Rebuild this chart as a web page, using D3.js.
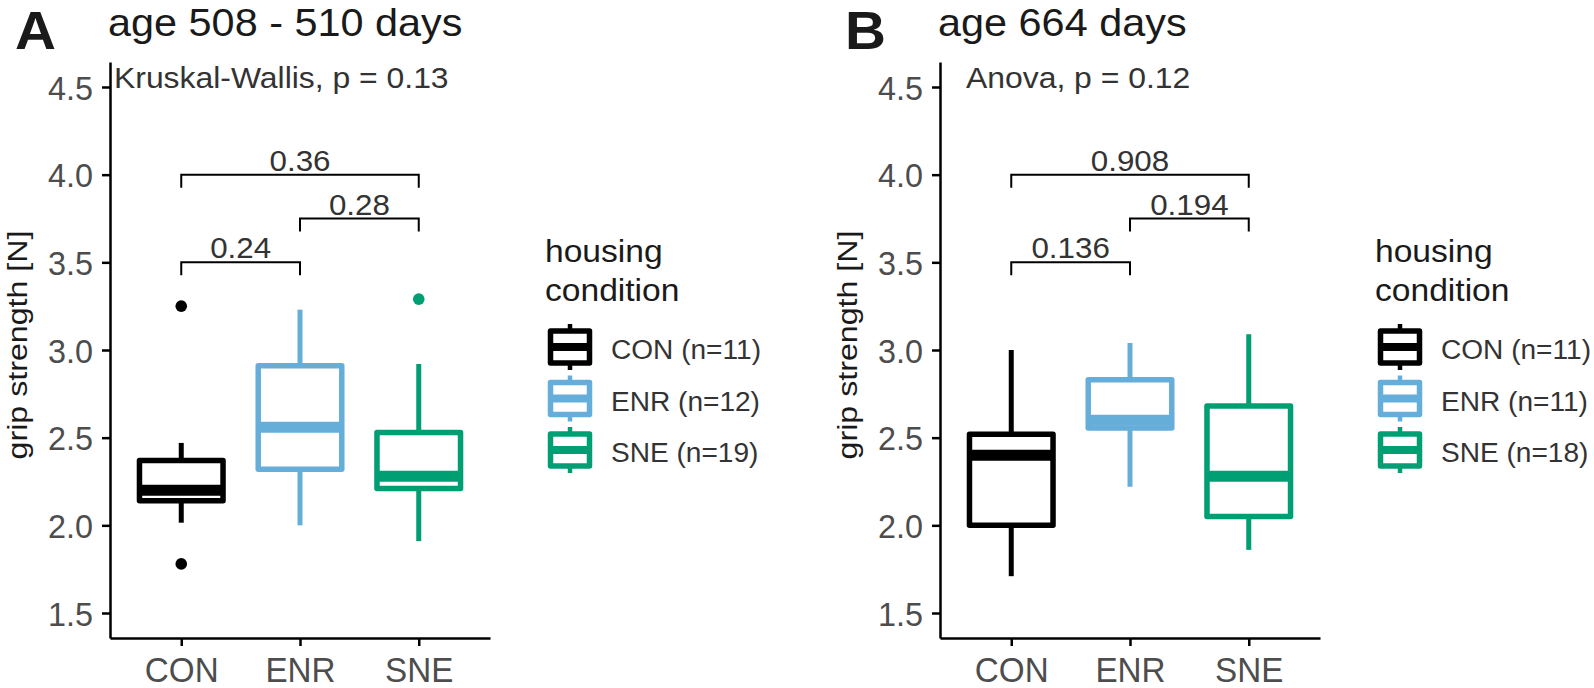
<!DOCTYPE html>
<html><head><meta charset="utf-8">
<script src="https://cdn.jsdelivr.net/npm/d3@7"></script>
<style>body{margin:0;background:#fff}svg{display:block}text{font-family:"Liberation Sans",Arial,sans-serif}</style>
</head><body>
<svg id="c" width="1594" height="688"></svg>
<script>
// ---------- data ----------
const categories = ["CON", "ENR", "SNE"];
const panelLetters = ["A", "B"];
const panelTitles = ["age 508 - 510 days", "age 664 days"];
const testLabels = ["Kruskal-Wallis, p = 0.13", "Anova, p = 0.12"];
const yTicks = [1.5, 2.0, 2.5, 3.0, 3.5, 4.0, 4.5];
// panel A box statistics (per category)
const aLow = [2.015, 2.00, 1.91];
const aQ1 = [2.14, 2.32, 2.21];
const aMedian = [2.20, 2.56, 2.28];
const aQ3 = [2.37, 2.91, 2.53];
const aHigh = [2.47, 3.23, 2.92];
const aOutliers = [[3.25, 1.78], [], [3.29]];
const aN = [11, 12, 19];
// panel B box statistics
const bLow = [1.71, 2.22, 1.86];
const bQ1 = [2.00, 2.555, 2.05];
const bMedian = [2.40, 2.60, 2.28];
const bQ3 = [2.52, 2.83, 2.68];
const bHigh = [3.00, 3.04, 3.09];
const bOutliers = [[], [], []];
const bN = [11, 11, 18];
// pairwise comparisons
const pairs = [[0, 1], [1, 2], [0, 2]];
const bracketY = [3.5, 3.75, 4.0];
const aPvals = ["0.24", "0.28", "0.36"];
const bPvals = ["0.136", "0.194", "0.908"];
const legendTitle = ["housing", "condition"];
const yTitle = "grip strength [N]";

// ---------- style ----------
const colors = ["#000000", "#66AEDA", "#009E73"];
const panelOffset = 830;
const svg = d3.select("#c");

function txt(g, x, y, s, size, sx, anchor, fill, weight, rot) {
  return g.append("text")
    .attr("transform", `translate(${x},${y})` + (rot ? ` rotate(${rot})` : "") + ` scale(${sx},1)`)
    .attr("text-anchor", anchor || "start")
    .attr("font-size", size)
    .attr("font-weight", weight || "normal")
    .attr("fill", fill || "#000")
    .text(s);
}

const y = d3.scaleLinear().domain([1.3574, 4.6426]).range([638, 62]);

const panels = [
  {low: aLow, q1: aQ1, med: aMedian, q3: aQ3, high: aHigh, out: aOutliers, n: aN, p: aPvals},
  {low: bLow, q1: bQ1, med: bMedian, q3: bQ3, high: bHigh, out: bOutliers, n: bN, p: bPvals}
];

panels.forEach((P, pi) => {
  const ox = pi * panelOffset;
  const g = svg.append("g").attr("transform", `translate(${ox},0)`);
  const x = d3.scalePoint().domain(categories).range([110, 490]).padding(0.6);
  const step = x.step();

  // panel letter & title
  txt(g, 15, 49, panelLetters[pi], 54, 1.05, "start", "#1a1a1a", "bold");
  txt(g, 108, 36, panelTitles[pi], 38, 1.09, "start", "#1a1a1a");

  // axes
  const ya = g.append("g").attr("transform", "translate(110,0)")
    .call(d3.axisLeft(y).tickValues(yTicks).tickFormat(d3.format(".1f")).tickSize(8).tickSizeOuter(0));
  ya.select(".domain").attr("stroke", "#000").attr("stroke-width", 2.5);
  ya.selectAll(".tick line").attr("stroke", "#000").attr("stroke-width", 2.5);
  ya.selectAll(".tick text").attr("x", 0).attr("dy", null).attr("y", 12)
    .attr("transform", "translate(-17,0) scale(0.98,1)")
    .attr("font-size", 33).attr("fill", "#4D4D4D").attr("font-family", null);

  const xa = g.append("g").attr("transform", "translate(0,638)")
    .call(d3.axisBottom(x).tickSize(8).tickSizeOuter(0));
  xa.select(".domain").attr("stroke", "#000").attr("stroke-width", 2.5);
  xa.selectAll(".tick line").attr("stroke", "#000").attr("stroke-width", 2.5);
  xa.selectAll(".tick text").attr("dy", null).attr("y", 44)
    .attr("transform", "scale(0.95,1)")
    .attr("font-size", 35).attr("fill", "#4D4D4D").attr("font-family", null);
  xa.selectAll(".tick text").attr("x", 0);

  // y title
  txt(g, 27, 345, yTitle, 28, 1.15, "middle", "#1a1a1a", "normal", -90);

  // boxes
  const half = 0.75 * step / 2 - 2.75;
  categories.forEach((c, i) => {
    const cx = x(c), col = colors[i];
    const bg = g.append("g");
    bg.append("line").attr("x1", cx).attr("x2", cx).attr("y1", y(P.high[i])).attr("y2", y(P.q3[i]))
      .attr("stroke", col).attr("stroke-width", 5);
    bg.append("line").attr("x1", cx).attr("x2", cx).attr("y1", y(P.q1[i])).attr("y2", y(P.low[i]))
      .attr("stroke", col).attr("stroke-width", 5);
    bg.append("rect").attr("x", cx - half).attr("width", 2 * half)
      .attr("y", y(P.q3[i])).attr("height", y(P.q1[i]) - y(P.q3[i]))
      .attr("fill", "#fff").attr("stroke", col).attr("stroke-width", 5.5).attr("stroke-linejoin", "round");
    bg.append("line").attr("x1", cx - half).attr("x2", cx + half).attr("y1", y(P.med[i])).attr("y2", y(P.med[i]))
      .attr("stroke", col).attr("stroke-width", 11);
    P.out[i].forEach(v => {
      bg.append("circle").attr("cx", cx).attr("cy", y(v)).attr("r", 5.8).attr("fill", col);
    });
  });

  // test label
  txt(g, pi === 0 ? 114 : 136, 88, testLabels[pi], 29, 1.1, "start", "#333");

  // brackets
  pairs.forEach((pr, k) => {
    const x1 = x(categories[pr[0]]), x2 = x(categories[pr[1]]), yy = y(bracketY[k]);
    g.append("path").attr("d", `M${x1},${yy + 13}V${yy}H${x2}V${yy + 13}`)
      .attr("fill", "none").attr("stroke", "#000").attr("stroke-width", 2);
    txt(g, (x1 + x2) / 2, yy - 4, P.p[k], 29, 1.08, "middle", "#333");
  });

  // legend
  txt(g, 545, 262, legendTitle[0], 32, 1.05, "start", "#1a1a1a");
  txt(g, 545, 301, legendTitle[1], 32, 1.05, "start", "#1a1a1a");
  categories.forEach((c, i) => {
    const cy = 347 + i * 51.5, kx = 570, col = colors[i];
    const lg = g.append("g");
    lg.append("line").attr("x1", kx).attr("x2", kx).attr("y1", cy - 23).attr("y2", cy + 23)
      .attr("stroke", col).attr("stroke-width", 4.5);
    lg.append("rect").attr("x", kx - 19.5).attr("y", cy - 16).attr("width", 39).attr("height", 32)
      .attr("fill", "#fff").attr("stroke", col).attr("stroke-width", 5.5).attr("stroke-linejoin", "round");
    lg.append("line").attr("x1", kx - 19.5).attr("x2", kx + 19.5).attr("y1", cy).attr("y2", cy)
      .attr("stroke", col).attr("stroke-width", 8);
    txt(g, 611, cy + 12, `${c} (n=${P.n[i]})`, 27, 1.04, "start", "#333");
  });
});
</script>
</body></html>
